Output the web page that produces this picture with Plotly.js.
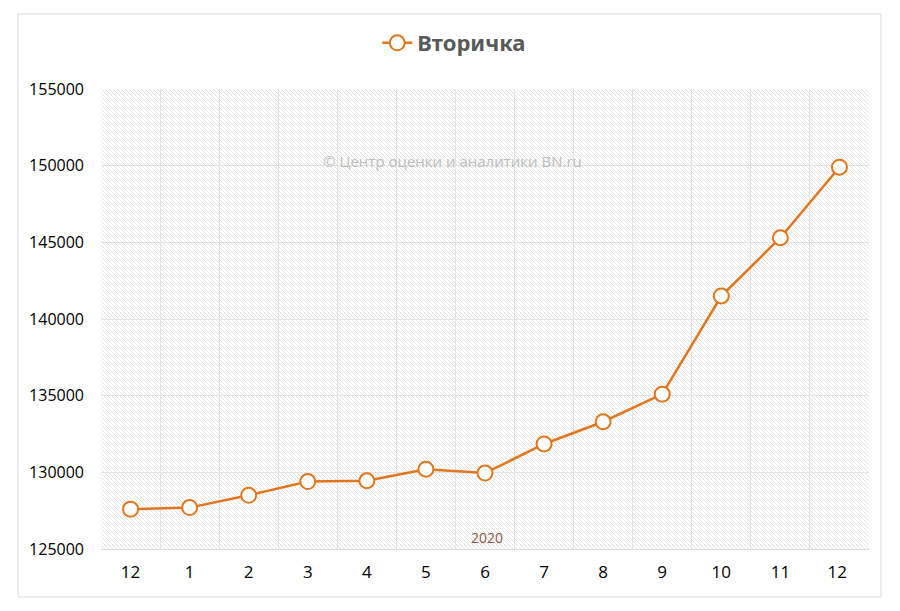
<!DOCTYPE html>
<html>
<head>
<meta charset="utf-8">
<script src="https://cdn.plot.ly/plotly-3.0.1.min.js"></script>
<style>
  html, body { margin: 0; padding: 0; background: #fff; }
  #chart { width: 900px; height: 611px; }
</style>
</head>
<body>
<div id="chart"></div>
<script>
// months, Dec 2019 .. Dec 2020
const months = ['12', '1', '2', '3', '4', '5', '6', '7', '8', '9', '10', '11', '12 '];
const prices = [127600, 127700, 128500, 129400, 129450, 130200, 129950,
                131850, 133300, 135100, 141500, 145300, 149900];
const seriesName = 'Вторичка';
const yearLabel = '2020';
const credit = '© Центр оценки и аналитики BN.ru';

const orange = '#E2761C';

// hatched background like in Excel
const hatch = '<svg xmlns="http://www.w3.org/2000/svg" width="768" height="460">' +
  '<defs><pattern id="p" width="4" height="4" patternUnits="userSpaceOnUse">' +
  '<path d="M-1,-1 L5,5 M-1,3 L1,5 M3,-1 L5,1" stroke="#e2e2e2" stroke-width="0.9"/></pattern></defs>' +
  '<rect width="100%" height="100%" fill="url(#p)"/></svg>';
const hatchUri = 'data:image/svg+xml;charset=utf-8,' + encodeURIComponent(hatch);

const trace = {
  x: months,
  y: prices,
  name: seriesName,
  type: 'scatter',
  mode: 'lines+markers',
  line: { color: orange, width: 2.5 },
  marker: { size: 15, color: '#fff', line: { color: orange, width: 2 } },
  showlegend: true
};

const layout = {
  width: 900,
  height: 611,
  margin: { l: 101, r: 31, t: 89, b: 62 },
  paper_bgcolor: '#fff',
  plot_bgcolor: 'rgba(0,0,0,0)',
  font: { family: 'Open Sans, sans-serif', color: '#000' },
  showlegend: true,
  legend: {
    orientation: 'h',
    x: 0.46, xanchor: 'center',
    y: 1.1, yanchor: 'middle',
    font: { size: 22, color: '#595959', family: 'Noto Sans, sans-serif', weight: 'bold' },
    itemwidth: 30
  },
  xaxis: {
    type: 'category',
    range: [-0.5, 12.5],
    tickson: 'boundaries',
    showgrid: true,
    gridcolor: '#e3e3e3',
    gridwidth: 1,
    showline: true,
    linecolor: '#d9d9d9',
    ticks: '',
    tickfont: { size: 17, family: 'Open Sans, sans-serif', color: '#000' },
    ticklabelstandoff: 8,
    fixedrange: true
  },
  yaxis: {
    range: [125000, 155000],
    dtick: 5000,
    showgrid: true,
    gridcolor: '#e3e3e3',
    gridwidth: 1,
    zeroline: false,
    ticks: '',
    tickformat: 'd',
    tickfont: { size: 16, family: 'Open Sans, sans-serif', color: '#000' },
    ticklabelstandoff: 16,
    fixedrange: true
  },
  images: [{
    source: hatchUri,
    xref: 'paper', yref: 'paper',
    x: 0, y: 1, sizex: 1, sizey: 1,
    xanchor: 'left', yanchor: 'top',
    sizing: 'stretch',
    layer: 'below'
  }],
  shapes: [{
    type: 'rect',
    xref: 'paper', yref: 'paper',
    x0: -83 / 768, x1: 1 + 12 / 768,
    y0: -48 / 460, y1: 1 + 75 / 460,
    line: { color: '#d9d9d9', width: 1 },
    fillcolor: 'rgba(0,0,0,0)'
  }],
  annotations: [
    {
      text: credit,
      xref: 'paper', yref: 'paper',
      x: 0.458, y: 0.87,
      showarrow: false,
      font: { size: 15, color: '#bdbdbd', family: 'Open Sans, sans-serif' }
    },
    {
      text: yearLabel,
      xref: 'paper', yref: 'paper',
      x: 0.502, y: 0.0,
      yanchor: 'bottom',
      showarrow: false,
      font: { size: 14, color: '#8a5a44', family: 'Open Sans, sans-serif' }
    }
  ]
};

Plotly.newPlot('chart', [trace], layout, { displayModeBar: false, staticPlot: true });
</script>
</body>
</html>
